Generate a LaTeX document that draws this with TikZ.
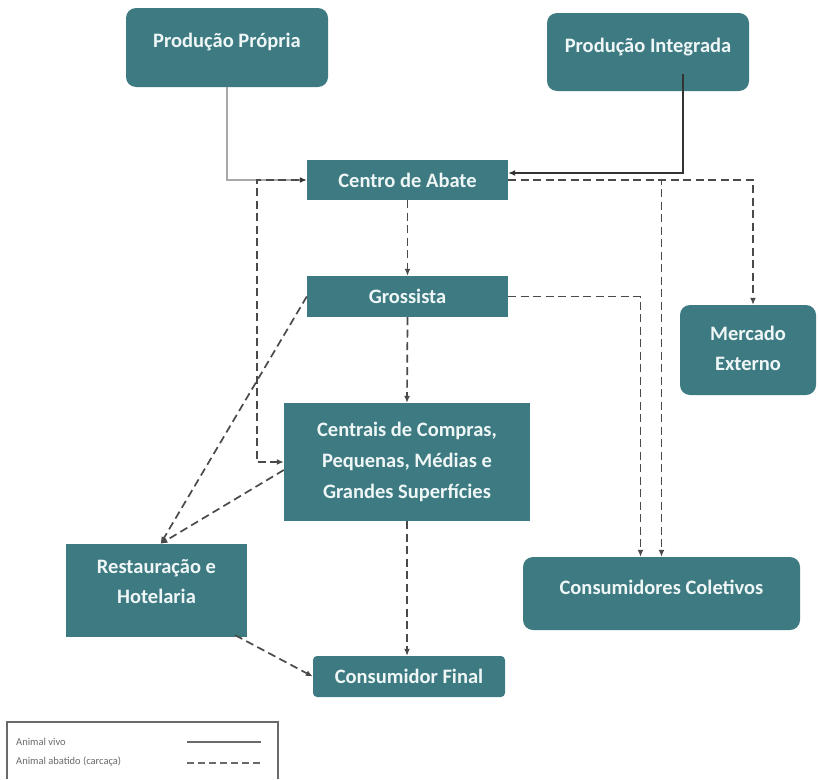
\documentclass[tikz,border=0pt]{standalone}
\usepackage{fontspec}
\setmainfont{Carlito}
\usetikzlibrary{arrows.meta,calc}
\definecolor{teal1}{HTML}{3E7A82}
\definecolor{boxtxt}{HTML}{EEF6F6}
\definecolor{dash1}{HTML}{4A4A4A}
\definecolor{solidlight}{HTML}{A8A8A8}
\definecolor{soliddark}{HTML}{333333}
\definecolor{legtxt}{HTML}{6A6A6A}
\begin{document}
\begin{tikzpicture}[x=1pt,y=-1pt,
  tbox/.style={fill=teal1, draw=none, inner sep=0pt, text=boxtxt, font=\fontsize{20.5}{31}\selectfont\bfseries, align=center},
  rbox/.style={tbox, rounded corners=10pt},
  lbl/.style={text=boxtxt, font=\fontsize{20.5}{30}\selectfont\bfseries, align=center, inner sep=0pt},
  dflow/.style={draw=dash1, line width=1.7pt, dash pattern=on 8pt off 4.5pt, -{Latex[length=7pt,width=6pt]}},
  dline/.style={draw=dash1, line width=1.7pt, dash pattern=on 8pt off 4.5pt},
  sflowlight/.style={draw=solidlight, line width=1.3pt, -{Latex[length=7pt,width=6pt,color=soliddark]}},
  sflowdark/.style={draw=soliddark, line width=1.3pt, -{Latex[length=7pt,width=6pt]}},
  legtext/.style={text=legtxt, font=\fontsize{10.5}{12}\selectfont, anchor=west, inner sep=0pt}
]
\useasboundingbox (0,0) rectangle (818,779);
\fill[white] (0,0) rectangle (818,779);

% boxes
\node[rbox, minimum width=202pt, minimum height=79pt,
  label={[lbl, yshift=5pt]center:Produção Própria}] (pp) at (227,47.5) {};
\node[rbox, minimum width=202pt, minimum height=78pt,
  label={[lbl, yshift=5pt]center:Produção Integrada}] (pi) at (648,52) {};
\node[tbox, minimum width=201pt, minimum height=40pt] (ca) at (407.5,180) {Centro de Abate};
\node[tbox, minimum width=201pt, minimum height=41pt] (gr) at (407.5,296.5) {Grossista};
\node[tbox, minimum width=246pt, minimum height=118pt] (ce) at (407,462) {Centrais de Compras,\\Pequenas, Médias e\\Grandes Superfícies};
\node[tbox, minimum width=181pt, minimum height=93pt,
  label={[lbl, yshift=9pt]center:Restauração e\\Hotelaria}] (rh) at (156.5,590.5) {};
\node[tbox, rounded corners=4pt, minimum width=192pt, minimum height=41pt] (cf) at (409,676.5) {Consumidor Final};
\node[rbox, minimum width=277pt, minimum height=73pt,
  label={[lbl, yshift=6pt]center:Consumidores Coletivos}] (cc) at (661.5,593.5) {};
\node[rbox, minimum width=136pt, minimum height=90pt,
  label={[lbl, yshift=2pt]center:Mercado\\Externo}] (me) at (748,350) {};

% connectors
\draw[sflowlight] (pp.south) |- (ca.west);
\draw[dflow] ([xshift=-8pt]ca.west) -- ++(-42,0) |- (ce.west);
\draw[dflow] (ca.east) -| ([xshift=5pt]me.north);
\draw[dflow] (ca.east) -| (cc.north);
\draw[sflowdark] ([xshift=35pt,yshift=17pt]pi.south) |- ([yshift=7pt]ca.east);
\draw[dflow] (ca.south) -- (gr.north);
\draw[dflow] (gr.south) -- (ce.north);
\draw[dflow] (gr.east) -| ([xshift=-21pt]cc.north);
\draw[dflow] (gr.west) -- ([xshift=4pt]rh.north);
\draw[dflow] ([yshift=-8pt]ce.west) -- ([xshift=4pt]rh.north);
\draw[dflow] (ce.south) -- (ce.south |- cf.north);
\draw[dflow] ([xshift=-12pt,yshift=2pt]rh.south east) -- (cf.west);

% legend
\draw[draw=legtxt, line width=1.2pt] (7,779) -- (7,722) -- (278,722) -- (278,779);
\node[legtext] (l1) at (16,742) {Animal vivo};
\node[legtext] (l2) at (16,762) {Animal abatido (carcaça)};
\draw[draw=legtxt, line width=1.3pt] (187,742) -- (261,742);
\draw[draw=legtxt, line width=1.3pt, dash pattern=on 7pt off 4pt] (187,763) -- (261,763);
\end{tikzpicture}
\end{document}
